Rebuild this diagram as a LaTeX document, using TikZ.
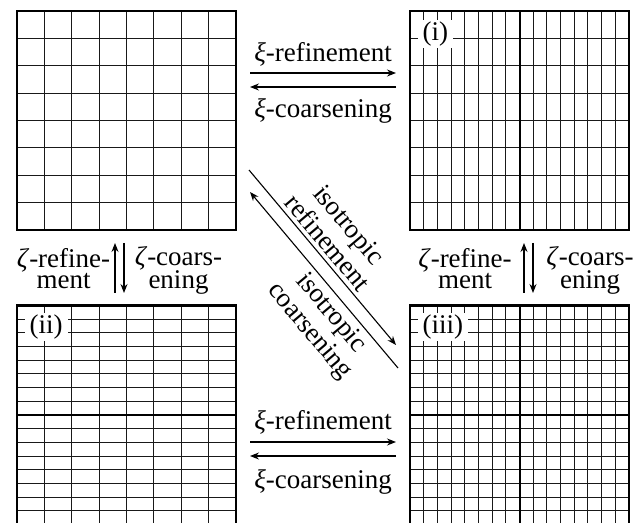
\documentclass[tikz,border=0pt]{standalone}
\usepackage{fontspec}
\setmainfont{Liberation Serif}
\usetikzlibrary{positioning,arrows.meta,calc,backgrounds}
\tikzset{
  mesh/.style = {draw, line width=2.4pt, minimum size=219pt, inner sep=0pt,
                 outer sep=0pt},
  fine/.style = {line width=1pt, black!90},
  mid/.style  = {line width=2pt},
  tag/.style  = {fill=white, inner xsep=5pt, inner ysep=2pt, anchor=north west},
  ar/.style   = {-{Stealth[length=9pt,width=7pt,inset=3pt]}, line width=1.1pt},
  lbl/.style  = {align=center, inner sep=0pt},
  dlbl/.style = {align=center, inner sep=4pt, font=\fontsize{27}{28}\selectfont},
}

\begin{document}
\begin{tikzpicture}[x=1pt, y=1pt, font=\fontsize{27}{21.3}\selectfont]
\useasboundingbox (0,0) rectangle (644,522);

% the four meshes
\node[mesh] (g0) at (126.5,401.5) {};
\node[mesh] (g1) at (519.5,401.5) {};
\node[mesh] (g2) at (126.5,107) {};
\node[mesh] (g3) at (519.5,107) {};

\begin{scope}[on background layer]
  \draw[fine, shift={(g0.south west)}] (0,0) grid[xstep=27.375, ystep=27.375] (219,219);
  \draw[fine, shift={(g1.south west)}] (0,0) grid[xstep=13.6875, ystep=27.375] (219,219);
  \draw[fine, shift={(g2.south west)}] (0,0) grid[xstep=27.375, ystep=13.6875] (219,219);
  \draw[fine, shift={(g3.south west)}] (0,0) grid[xstep=13.6875, ystep=13.6875] (219,219);
  \draw[mid] (g1.north) -- (g1.south);
  \draw[mid] (g2.west) -- (g2.east);
  \draw[mid] (g3.north) -- (g3.south);
  \draw[mid] (g3.west) -- (g3.east);
\end{scope}

\node[tag] (t1) at ($(g1.north west)+(7.5,-8.5)$) {(i)};
\node[tag] (t2) at ($(g2.north west)+(7.5,-7)$) {(ii)};
\node[tag] (t3) at ($(g3.north west)+(7.5,-7)$) {(iii)};

% xi direction
\draw[ar, shorten <=14pt, shorten >=14pt] ([yshift=47.5pt]g0.east) -- ([yshift=47.5pt]g1.west);
\draw[ar, shorten <=14pt, shorten >=14pt] ([yshift=33.5pt]g1.west) -- ([yshift=33.5pt]g0.east);
\draw[ar, shorten <=14pt, shorten >=14pt] ([yshift=-27pt]g2.east) -- ([yshift=-27pt]g3.west);
\draw[ar, shorten <=14pt, shorten >=14pt] ([yshift=-41pt]g3.west) -- ([yshift=-41pt]g2.east);
\node[lbl, anchor=base] (xr0) at (323,460) {\textit{ξ}-refinement};
\node[lbl, anchor=base] (xc0) at (323,404) {\textit{ξ}-coarsening};
\node[lbl, anchor=base] (xr1) at (323,93) {\textit{ξ}-refinement};
\node[lbl, anchor=base] (xc1) at (323,34) {\textit{ξ}-coarsening};

% zeta direction
\draw[ar, shorten <=12.5pt, shorten >=13pt] ([xshift=-11.5pt]g2.north) -- ([xshift=-11.5pt]g0.south);
\draw[ar, shorten <=13pt, shorten >=12.5pt] ([xshift=-2.5pt]g0.south) -- ([xshift=-2.5pt]g2.north);
\draw[ar, shorten <=12.5pt, shorten >=13pt] ([xshift=4.5pt]g3.north) -- ([xshift=4.5pt]g1.south);
\draw[ar, shorten <=13pt, shorten >=12.5pt] ([xshift=13.5pt]g1.south) -- ([xshift=13.5pt]g3.north);
\node[lbl, anchor=base] (zr0) at (63.5,233) {\textit{ζ}-refine-\\ment};
\node[lbl, anchor=base] (zc0) at (178.5,233) {\textit{ζ}-coars-\\ening};
\node[lbl, anchor=base] (zr1) at (465,233) {\textit{ζ}-refine-\\ment};
\node[lbl, anchor=base] (zc1) at (590,233) {\textit{ζ}-coars-\\ening};

% isotropic
\coordinate (r0) at ($(g0.south east)+(13,60)$);
\coordinate (r1) at ($(g3.north west)+(-14,-39.5)$);
\coordinate (c0) at ($(g3.north west)+(-12,-62.5)$);
\coordinate (c1) at ($(g0.south east)+(14,38)$);
\draw[ar] (r0) -- node[dlbl, sloped, above, pos=0.465] (ir) {isotropic\\refinement} (r1);
\draw[ar] (c0) -- node[dlbl, sloped, below, pos=0.37] (ic) {isotropic\\coarsening} (c1);
\end{tikzpicture}
\end{document}
